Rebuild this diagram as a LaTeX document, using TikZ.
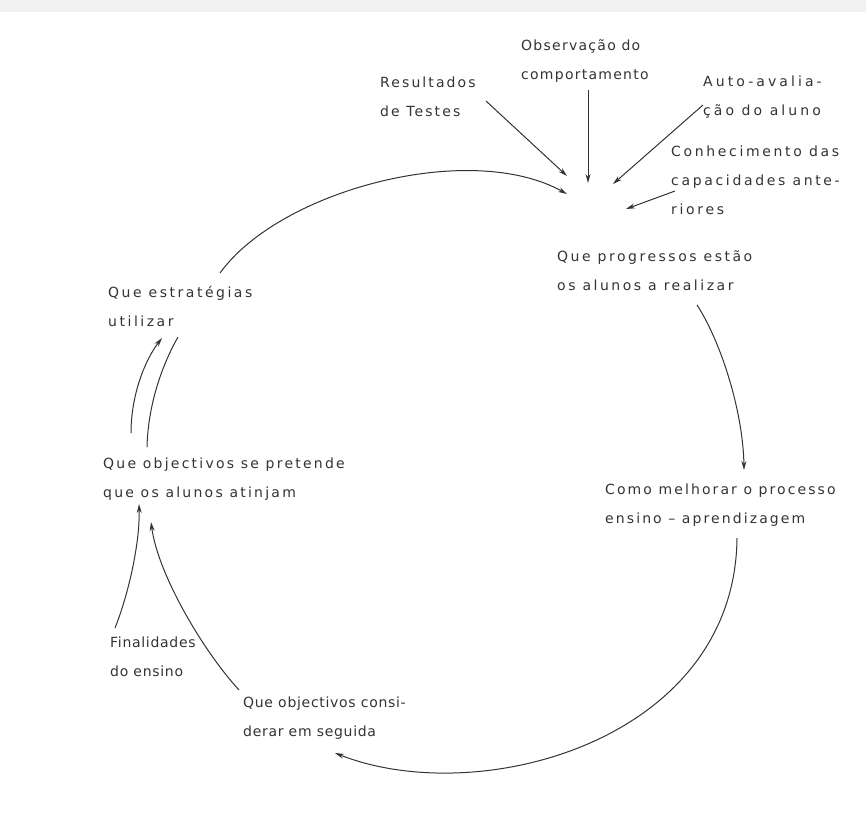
\documentclass[tikz,border=0pt]{standalone}
\usepackage{fontspec}
\usetikzlibrary{arrows.meta}
\newfontfamily\lettering{DejaVu Sans}
\newcommand{\lstrut}{\rule{0pt}{13pt}}
\definecolor{ink}{HTML}{333333}
\definecolor{scan}{HTML}{F1F1F1}

\begin{document}
\begin{tikzpicture}[x=1pt, y=-1pt,
        cue/.style={font=\lettering\fontsize{14}{29}\selectfont\addfontfeature{LetterSpace=#1},
                    text=ink, align=left, inner sep=0pt, anchor=north west},
        cue/.default=12,
        flow/.style={draw=ink, line width=1pt, -{Stealth[length=9pt,width=5pt]}},
        plain flow/.style={draw=ink, line width=1pt}]
    \useasboundingbox (0,0) rectangle (866,833);
    \fill[scan] (0,0) rectangle (866,12);

    % the texts
    \node[cue=9]  (obs)  at (521,37)  {\lstrut Observação do\\comportamento};
    \node[cue=15] (res)  at (380,74)  {\lstrut Resultados\\de Testes};
    \node[cue=22] (auto) at (703,73)  {\lstrut Auto-avalia-\\ção do aluno};
    \node[cue=19] (conh) at (671,143) {\lstrut Conhecimento das\\capacidades ante-\\riores};
    \node[cue=18] (prog) at (557,248) {\lstrut Que progressos estão\\os alunos a realizar};
    \node[cue=15] (como) at (605,481) {\lstrut Como melhorar o processo\\ensino – aprendizagem};
    \node[cue=5]  (cons) at (243,694) {\lstrut Que objectivos consi-\\derar em seguida};
    \node[cue=5]  (fin)  at (110,634) {\lstrut Finalidades\\do ensino};
    \node[cue=16] (pret) at (103,455) {\lstrut Que objectivos se pretende\\que os alunos atinjam};
    \node[cue=18] (estr) at (108,284) {\lstrut Que estratégias\\utilizar};

    % ends of the connectors
    \coordinate (res-tail)  at (486,101);
    \coordinate (res-tip)   at (567,176);
    \coordinate (obs-tail)  at (588,90);
    \coordinate (obs-tip)   at (588,183);
    \coordinate (auto-tail) at (703,105);
    \coordinate (auto-tip)  at (613,184);
    \coordinate (conh-tail) at (675,191);
    \coordinate (conh-tip)  at (626,209);
    \coordinate (estr-out)  at (220,273);
    \coordinate (prog-in)   at (567,194);
    \coordinate (prog-out)  at (697,305);
    \coordinate (como-in)   at (744,470);
    \coordinate (como-out)  at (737,538);
    \coordinate (cons-in)   at (335,753);
    \coordinate (cons-out)  at (239,690);
    \coordinate (pret-in2)  at (151,522);
    \coordinate (fin-out)   at (115,628);
    \coordinate (pret-in1)  at (139,504);
    \coordinate (pret-out)  at (131,433);
    \coordinate (estr-in)   at (162,338);
    \coordinate (estr-low)  at (178,337);
    \coordinate (pret-top)  at (147,447);

    \draw[flow] (res-tail) -- (res-tip);
    \draw[flow] (obs-tail) -- (obs-tip);
    \draw[flow] (auto-tail) -- (auto-tip);
    \draw[flow] (conh-tail) -- (conh-tip);

    \draw[flow] (estr-out) .. controls (280,190) and (470,140) .. (prog-in);
    \draw[flow] (prog-out) .. controls (720,340) and (743,410) .. (como-in);
    \draw[flow] (como-out) .. controls (735,740) and (480,810) .. (cons-in);
    \draw[flow] (cons-out) .. controls (204,652) and (158,575) .. (pret-in2);
    \draw[flow] (fin-out) .. controls (130,590) and (140,540) .. (pret-in1);
    \draw[flow] (pret-out) .. controls (131,395) and (145,360) .. (estr-in);
    \draw[plain flow] (pret-top) .. controls (148,405) and (162,365) .. (estr-low);
\end{tikzpicture}
\end{document}
